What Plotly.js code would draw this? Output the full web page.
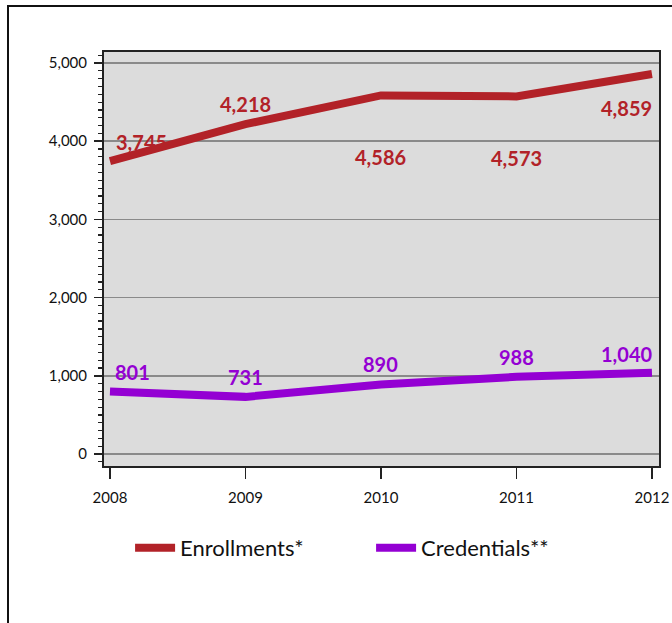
<!DOCTYPE html>
<html>
<head>
<meta charset="utf-8">
<script src="https://cdn.plot.ly/plotly-3.0.1.min.js"></script>
<style>
  html, body { margin: 0; padding: 0; background: #fff; }
  #wrap { position: relative; width: 672px; height: 623px; overflow: hidden; }
  #chart { position: absolute; left: 0; top: 0; width: 672px; height: 623px; }
  #frame { position: absolute; left: 7px; top: 5px; width: 700px; height: 700px;
           border-left: 2px solid #111; border-top: 2px solid #111; pointer-events: none; }
</style>
</head>
<body>
<div id="wrap">
  <div id="chart"></div>
  <div id="frame"></div>
</div>
<script>
// ---- data ----
var years = [2008, 2009, 2010, 2011, 2012];
var enrollments = [3745, 4218, 4586, 4573, 4859];
var credentials = [801, 731, 890, 988, 1040];
var seriesNames = ["Enrollments*", "Credentials**"];

// ---- styles / label offsets (pixels) ----
var colEnr = "#B22228";
var colCred = "#9400D3";
var enrShiftX = [32, 0, 0, 0, -25];
var enrShiftY = [19, 20, -62, -62, -34];
var credShiftX = [23, 0, 0, 0, -25];
var credShiftY = [19, 20, 20, 20, 19];

function fmt(v) { return v.toLocaleString("en-US"); }

var traces = [
  { x: years, y: enrollments, name: seriesNames[0], type: "scatter", mode: "lines",
    line: { color: colEnr, width: 8 }, hoverinfo: "skip" },
  { x: years, y: credentials, name: seriesNames[1], type: "scatter", mode: "lines",
    line: { color: colCred, width: 8 }, hoverinfo: "skip" }
];

var annotations = [];
years.forEach(function (yr, i) {
  annotations.push({ x: yr, y: enrollments[i], xref: "x", yref: "y", text: "<b>" + fmt(enrollments[i]) + "</b>",
    showarrow: false, xshift: enrShiftX[i], yshift: enrShiftY[i],
    font: { family: "Lato", size: 20, color: colEnr, weight: 900 } });
  annotations.push({ x: yr, y: credentials[i], xref: "x", yref: "y", text: "<b>" + fmt(credentials[i]) + "</b>",
    showarrow: false, xshift: credShiftX[i], yshift: credShiftY[i],
    font: { family: "Lato", size: 20, color: colCred, weight: 900 } });
});

var layout = {
  width: 672, height: 623,
  margin: { l: 104, r: 13, t: 52, b: 157, autoexpand: false },
  paper_bgcolor: "rgba(0,0,0,0)",
  plot_bgcolor: "#DCDCDC",
  font: { family: "Lato", color: "#111" },
  showlegend: true,
  legend: {
    orientation: "h", x: 0.047, xanchor: "left",
    y: -0.198, yanchor: "middle",
    font: { family: "Lato", size: 22, color: "#111" },
    entrywidth: 186, entrywidthmode: "pixels", itemwidth: 40
  },
  xaxis: {
    range: [2007.956, 2012.052],
    tickvals: years, ticktext: years.map(String),
    showgrid: false, zeroline: false,
    showline: true, linecolor: "#222", linewidth: 2, mirror: true,
    ticks: "outside", ticklen: 11, tickwidth: 1.5, tickcolor: "#222",
    ticklabelstandoff: 6,
    tickfont: { family: "Lato", size: 15, color: "#111" },
    fixedrange: true
  },
  yaxis: {
    range: [-153, 5141],
    tickvals: [0, 1000, 2000, 3000, 4000, 5000],
    tickformat: ",d",
    showgrid: true, gridcolor: "#8A8A8A", gridwidth: 1.5,
    zeroline: false,
    showline: true, linecolor: "#222", linewidth: 2, mirror: true,
    ticks: "outside", ticklen: 8, tickwidth: 1.5, tickcolor: "#222",
    ticklabelstandoff: 4,
    minor: { dtick: 100, tick0: 0, ticks: "outside", ticklen: 4, tickwidth: 1.2, tickcolor: "#222", showgrid: false },
    tickfont: { family: "Lato", size: 15, color: "#111" },
    fixedrange: true
  },
  annotations: annotations
};

Plotly.newPlot("chart", traces, layout, { displayModeBar: false, staticPlot: true });
</script>
</body>
</html>
